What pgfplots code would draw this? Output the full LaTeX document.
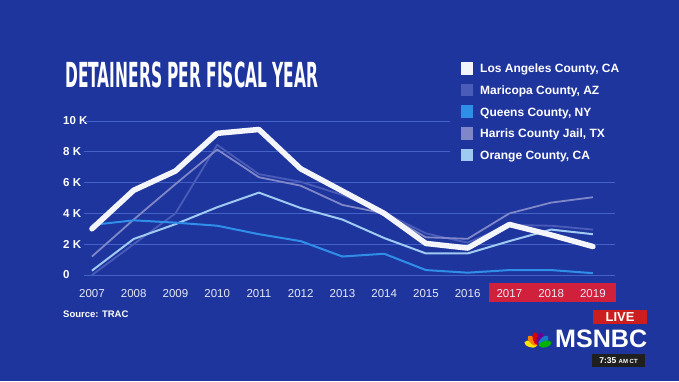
\documentclass[border=0pt]{standalone}
\usepackage{fontspec}
\setmainfont{Liberation Sans}
\newfontfamily\titlefont{DejaVu Sans}
\usepackage{pgfplots}
\pgfplotsset{compat=1.18}
\usepackage{graphicx}
\definecolor{bg}{RGB}{31,53,158}
\definecolor{gridc}{RGB}{66,98,200}
\definecolor{cLA}{RGB}{244,245,250}
\definecolor{cMA}{RGB}{74,92,184}
\definecolor{cQU}{RGB}{47,143,232}
\definecolor{cHA}{RGB}{127,135,200}
\definecolor{cOR}{RGB}{159,202,242}
\definecolor{redbox}{RGB}{208,32,60}
\definecolor{livered}{RGB}{204,30,30}
\definecolor{xlab}{RGB}{230,233,245}
\begin{document}
\begin{tikzpicture}[x=1pt,y=1pt]
\fill[bg] (0,0) rectangle (679,381);
\useasboundingbox (0,0) rectangle (679,381);
\fill[redbox] (489,79) rectangle (616,98);
\node[anchor=south west, inner sep=0pt, text=white] at (65,292.7) {\resizebox{253pt}{25.6pt}{\titlefont\bfseries DETAINERS PER FISCAL YEAR}};
\begin{axis}[
  at={(84pt,106pt)}, anchor=south west, scale only axis,
  width=531pt, height=154pt,
  xmin=2006.81, xmax=2019.53, ymin=0, ymax=10,
  axis line style={draw=none}, major tick length=0pt,
  clip=false,
  xtick={2007,2008,2009,2010,2011,2012,2013,2014,2015,2016,2017,2018,2019},
  xticklabels={2007,2008,2009,2010,2011,2012,2013,2014,2015,2016,2017,2018,2019},
  ytick={0,2,4,6,8,10},
  yticklabels={0,2 K,4 K,6 K,8 K,10 K},
  yticklabel style={anchor=west, xshift=-21pt, inner sep=0pt, text=white, font=\bfseries\fontsize{11.5}{11.5}\selectfont},
  xticklabel style={anchor=base, yshift=-22.5pt, inner sep=0pt, text=xlab, font=\fontsize{11.5}{11.5}\selectfont},
]
% grid lines
\addplot[gridc, line width=0.8pt, forget plot] coordinates {(2006.81,0) (2019.53,0)};
\addplot[gridc, line width=0.8pt, forget plot] coordinates {(2006.81,2) (2019.53,2)};
\addplot[gridc, line width=0.8pt, forget plot] coordinates {(2006.81,4) (2019.53,4)};
\addplot[gridc, line width=0.8pt, forget plot] coordinates {(2006.81,6) (2019.53,6)};
\addplot[gridc, line width=0.8pt, forget plot] coordinates {(2006.81,8) (2015.57,8)};
\addplot[gridc, line width=0.8pt, forget plot] coordinates {(2006.81,10) (2015.57,10)};
% Maricopa
\addplot[cMA, line width=1.8pt, line join=round] coordinates {
(2007,0.0) (2008,2.0) (2009,4.0) (2010,8.45) (2011,6.55) (2012,6.05) (2013,5.2)
(2014,4.05) (2015,2.7) (2016,2.1) (2017,3.25) (2018,3.2) (2019,2.95)};
% Harris
\addplot[cHA, line width=1.8pt, line join=round] coordinates {
(2007,1.2) (2008,3.6) (2009,5.9) (2010,8.15) (2011,6.35) (2012,5.8) (2013,4.55)
(2014,4.0) (2015,2.45) (2016,2.35) (2017,4.0) (2018,4.7) (2019,5.05)};
% Orange
\addplot[cOR, line width=2pt, line join=round] coordinates {
(2007,0.28) (2008,2.34) (2009,3.3) (2010,4.4) (2011,5.35) (2012,4.35) (2013,3.6)
(2014,2.4) (2015,1.4) (2016,1.4) (2017,2.2) (2018,2.95) (2019,2.65)};
% Queens
\addplot[cQU, line width=2pt, line join=round] coordinates {
(2007,3.25) (2008,3.55) (2009,3.4) (2010,3.2) (2011,2.65) (2012,2.2) (2013,1.2)
(2014,1.38) (2015,0.32) (2016,0.15) (2017,0.32) (2018,0.32) (2019,0.12)};
% Los Angeles
\addplot[cLA, line width=5.5pt, line join=round, line cap=round] coordinates {
(2007,3.0) (2008,5.5) (2009,6.75) (2010,9.2) (2011,9.45) (2012,6.9) (2013,5.45)
(2014,4.0) (2015,2.05) (2016,1.75) (2017,3.28) (2018,2.6) (2019,1.85)};
\end{axis}
% legend
\foreach \c/\t/\Y in {cLA/{Los Angeles County, CA}/312.7, cMA/{Maricopa County, AZ}/291, cQU/{Queens County, NY}/269.3, cHA/{Harris County Jail, TX}/247.7, cOR/{Orange County, CA}/226} {
  \fill[\c] (460.7,\Y-6.3) rectangle (473.3,\Y+6.3);
  \node[anchor=base west, inner sep=0pt, text=white, font=\bfseries\fontsize{12}{12}\selectfont] at (480,\Y-4.4) {\t};
}
% source
\node[anchor=base west, inner sep=0pt, text=white, font=\bfseries\fontsize{9.5}{9.5}\selectfont] at (63,63.5) {Source: TRAC};
% MSNBC branding
\fill[livered] (593,57) rectangle (647,71);
\node[text=white, inner sep=0pt, font=\bfseries\fontsize{13}{13}\selectfont] at (620,64) {LIVE};
\node[anchor=south west, inner sep=0pt, text=white] at (555,32.7) {\resizebox{92pt}{17.6pt}{\bfseries MSNBC}};
\foreach \a/\col in {165/yellow!90!orange, 135/orange, 105/red!85!black, 75/violet!80!blue, 45/cyan!60!blue, 15/green!70!black} {
  \fill[\col] (538,35) ++(\a:7.5) ellipse[x radius=6.5pt, y radius=3.2pt, rotate=\a];
}
\fill[black!88] (592,14) rectangle (645,27);
\node[text=white, inner sep=0pt, font=\bfseries\fontsize{8.5}{8.5}\selectfont] at (618.5,20.5) {7:35 {\fontsize{6}{6}\selectfont AM CT}};
\end{tikzpicture}
\end{document}
